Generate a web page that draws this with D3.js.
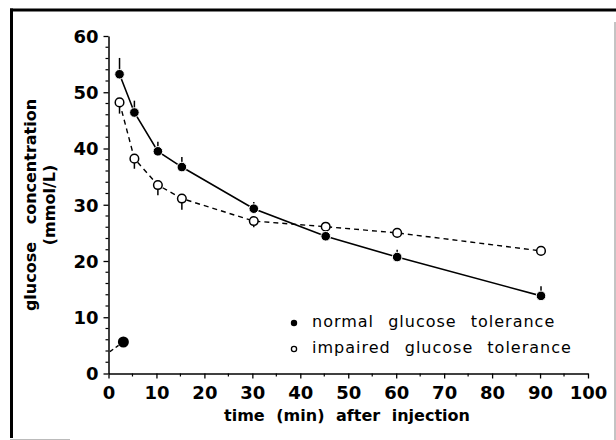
<!DOCTYPE html>
<html>
<head>
<meta charset="utf-8">
<script src="https://cdn.jsdelivr.net/npm/d3@7/dist/d3.min.js"></script>
<style>
  html, body { margin: 0; padding: 0; background: #fff; }
  svg { display: block; }
</style>
</head>
<body>
<svg id="chart" width="616" height="440"></svg>
<script>
// ---- data ----
const times = [2.3, 5.4, 10.3, 15.3, 30.3, 45.3, 60.2, 90.2];
const normalValues = [53.2, 46.4, 39.5, 36.7, 29.3, 24.4, 20.7, 13.8];
const normalErrUp = [56.1, 48.5, 41.2, 38.5, 30.5, 24.4, 22.0, 15.5];
const impairedValues = [48.2, 38.2, 33.5, 31.1, 27.1, 26.1, 25.0, 21.8];
const impairedErrDown = [46.2, 36.4, 31.7, 29.1, 26.0, 26.1, 25.0, 21.8];
const baselineTime = [3.1];
const baselineValue = [5.6];
const stubTimes = [0.3, 2.1];
const stubValues = [3.9, 5.0];
const xTicks = [0, 10, 20, 30, 40, 50, 60, 70, 80, 90, 100];
const yTicks = [0, 10, 20, 30, 40, 50, 60];
const legendLabels = ["normal glucose tolerance", "impaired glucose tolerance"];

// ---- layout ----
const svg = d3.select("#chart");
const x = d3.scaleLinear().domain([0, 100]).range([108.5, 588]);
const y = d3.scaleLinear().domain([0, 60]).range([373.5, 36]);

// frame
svg.append("line").attr("x1", 11.5).attr("x2", 11.5).attr("y1", 8.5).attr("y2", 438)
  .attr("stroke", "#000").attr("stroke-width", 3);
svg.append("line").attr("x1", 10).attr("x2", 616).attr("y1", 10).attr("y2", 10)
  .attr("stroke", "#000").attr("stroke-width", 3);
svg.append("line").attr("x1", 615).attr("x2", 615).attr("y1", 22).attr("y2", 440)
  .attr("stroke", "#888").attr("stroke-width", 1);
svg.append("line").attr("x1", 10).attr("x2", 70).attr("y1", 439.5).attr("y2", 439.5)
  .attr("stroke", "#bbb").attr("stroke-width", 1);

const fontBold = "'DejaVu Sans', Verdana, sans-serif";

// minor ticks
const gx = svg.append("g").attr("transform", `translate(0,${y(0)})`);
gx.selectAll("line.minor").data(d3.range(5, 100, 10)).join("line")
  .attr("x1", d => x(d)).attr("x2", d => x(d)).attr("y1", 0).attr("y2", 3)
  .attr("stroke", "#000").attr("stroke-width", 1.2);
const gy = svg.append("g").attr("transform", `translate(${x(0)},0)`);
gy.selectAll("line.minor").data(d3.range(2, 60, 2).filter(d => d % 10 !== 0)).join("line")
  .attr("x1", 0).attr("x2", -3).attr("y1", d => y(d)).attr("y2", d => y(d))
  .attr("stroke", "#000").attr("stroke-width", 1.2);

// axes
const xAxis = d3.axisBottom(x).tickValues(xTicks).tickSize(5).tickPadding(8).tickSizeOuter(0);
const yAxis = d3.axisLeft(y).tickValues(yTicks).tickSize(5).tickPadding(5).tickSizeOuter(0);
gx.call(xAxis);
gy.call(yAxis);
[gx, gy].forEach(g => {
  g.select(".domain").attr("stroke", "#000").attr("stroke-width", 1.5);
  g.selectAll(".tick line").attr("stroke", "#000").attr("stroke-width", 1.3);
  g.selectAll(".tick text").attr("fill", "#000")
    .style("font-family", fontBold).style("font-weight", "bold").style("font-size", "18px");
});
gy.selectAll(".tick text").attr("dy", "0.36em");

// axis titles
svg.append("text").attr("x", 347).attr("y", 421)
  .attr("text-anchor", "middle")
  .style("font-family", fontBold).style("font-weight", "bold").style("font-size", "16px")
  .style("word-spacing", "6px")
  .text("time (min) after injection");
const yt = svg.append("text")
  .attr("transform", `translate(0,205) rotate(-90)`)
  .attr("text-anchor", "middle")
  .style("font-family", fontBold).style("font-weight", "bold").style("font-size", "16px")
  .style("word-spacing", "12px");
yt.append("tspan").attr("x", 0).attr("y", 36).text("glucose concentration");
yt.append("tspan").attr("x", 0).attr("y", 55).text("(mmol/L)");

// data rows
const normal = times.map((t, i) => ({ t, v: normalValues[i], e: normalErrUp[i] }));
const impaired = times.map((t, i) => ({ t, v: impairedValues[i], e: impairedErrDown[i] }));

const line = d3.line().x(d => x(d.t)).y(d => y(d.v));

// impaired dashed line
svg.append("path").datum(impaired).attr("d", line)
  .attr("fill", "none").attr("stroke", "#000").attr("stroke-width", 1.4)
  .attr("stroke-dasharray", "5,4");
// stub
svg.append("path").datum(stubTimes.map((t, i) => ({ t, v: stubValues[i] }))).attr("d", line)
  .attr("fill", "none").attr("stroke", "#000").attr("stroke-width", 1.4)
  .attr("stroke-dasharray", "4,3");
// normal solid line
svg.append("path").datum(normal).attr("d", line)
  .attr("fill", "none").attr("stroke", "#000").attr("stroke-width", 1.6);

// error bars
svg.selectAll("line.errN").data(normal.filter(d => d.e > d.v)).join("line")
  .attr("x1", d => x(d.t)).attr("x2", d => x(d.t))
  .attr("y1", d => y(d.v)).attr("y2", d => y(d.e))
  .attr("stroke", "#000").attr("stroke-width", 1.5);
svg.selectAll("line.errI").data(impaired.filter(d => d.e < d.v)).join("line")
  .attr("x1", d => x(d.t)).attr("x2", d => x(d.t))
  .attr("y1", d => y(d.v)).attr("y2", d => y(d.e))
  .attr("stroke", "#000").attr("stroke-width", 1.5);

// markers
svg.selectAll("circle.imp").data(impaired).join("circle")
  .attr("cx", d => x(d.t)).attr("cy", d => y(d.v)).attr("r", 4.3)
  .attr("fill", "#fff").attr("stroke", "#000").attr("stroke-width", 1.5);
svg.selectAll("circle.norm").data(normal).join("circle")
  .attr("cx", d => x(d.t)).attr("cy", d => y(d.v)).attr("r", 4.8)
  .attr("fill", "#000").attr("stroke", "#fff").attr("stroke-width", 1);
svg.selectAll("circle.base").data(baselineTime.map((t, i) => ({ t, v: baselineValue[i] }))).join("circle")
  .attr("cx", d => x(d.t)).attr("cy", d => y(d.v)).attr("r", 5.5)
  .attr("fill", "#000");

// legend
const lg = svg.append("g");
legendLabels.forEach((lab, i) => {
  const yy = 327 + i * 26;
  lg.append("circle").attr("cx", 294).attr("cy", yy - 4).attr("r", i === 0 ? 3.2 : 2.6)
    .attr("fill", i === 0 ? "#000" : "#fff").attr("stroke", "#000").attr("stroke-width", i === 0 ? 0 : 1.3);
  lg.append("text").attr("x", 312).attr("y", yy)
    .style("font-family", "'DejaVu Sans', Verdana, sans-serif").style("font-size", "16px")
    .style("letter-spacing", "1px").style("word-spacing", "8px")
    .attr("fill", "#000").text(lab);
});
</script>
</body>
</html>
